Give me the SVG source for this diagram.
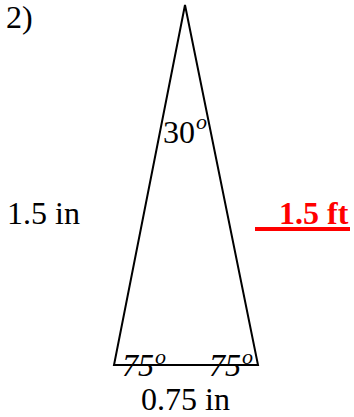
<svg xmlns="http://www.w3.org/2000/svg" width="354" height="417" viewBox="0 0 354 417">
<style>
text{font-family:"Liberation Serif","Times New Roman",serif;fill:#000}
.n{font-size:32px}
.i{font-size:32px;font-style:italic}
.s{font-size:22px;font-style:italic}
.r{font-size:32px;font-weight:bold;fill:#ff0000}
</style>
<rect width="354" height="417" fill="#fff"/>
<g id="triangle">
<polygon points="185,5 114,365 258,365" fill="none" stroke="#000" stroke-width="2" stroke-linejoin="miter"/>
</g>
<g id="labels">
<text class="n" x="6" y="28">2)</text>
<text class="n" x="163" y="143">30</text>
<text class="s" x="196" y="129">o</text>
<text class="i" x="122" y="376">75</text>
<text class="s" x="155" y="364">o</text>
<text class="i" x="209" y="376">75</text>
<text class="s" x="242" y="364">o</text>
<text class="n" x="141" y="410">0.75 in</text>
<text class="n" x="7" y="224">1.5 in</text>
<text class="r" x="279" y="224">1.5 ft</text>
<rect x="255" y="227" width="95" height="4" fill="#ff0000"/>
</g>
</svg>
